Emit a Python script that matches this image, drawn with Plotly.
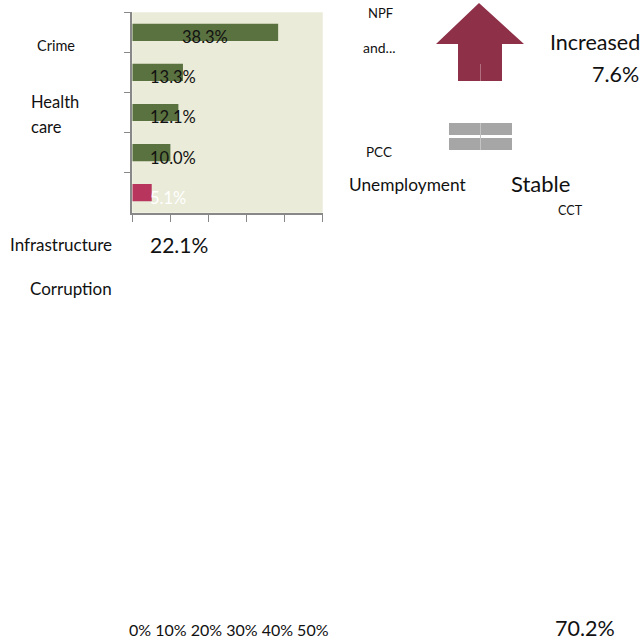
import plotly.graph_objects as go

# Data
categories = ["c1", "c2", "c3", "c4", "c5"]
values = [38.3, 13.3, 12.1, 10.0, 5.1]
bar_colors = ["#5A7140", "#5A7140", "#5A7140", "#5A7140", "#B8365E"]
label_colors = ["#111111", "#111111", "#111111", "#111111", "#FFFFFF"]
x_ticks = [0, 10, 20, 30, 40, 50]
x_tick_text = "0% 10% 20% 30% 40% 50%"

W, H = 644, 641
FONT = "Lato, 'Open Sans', sans-serif"


def fx(x):
    return x / W


def fy(y):
    return 1 - y / H


fig = go.Figure()
fig.add_trace(go.Bar(
    y=categories, x=values, orientation="h",
    marker=dict(color=bar_colors, line=dict(width=0)),
    width=0.43, hoverinfo="skip", showlegend=False,
))

annotations = []
for i, (c, v) in enumerate(zip(categories, values)):
    if i == 0:
        ax, anchor = v / 2, "center"
    else:
        ax, anchor = 4.2, "left"
    annotations.append(dict(
        x=ax, y=c, xref="x", yref="y", text=f"{v:.1f}%", showarrow=False,
        xanchor=anchor, yshift=-5, font=dict(size=16.5, color=label_colors[i], family=FONT)))


def px(x, y, text, size, anchor="center"):
    annotations.append(dict(
        x=fx(x), y=fy(y), xref="paper", yref="paper", text=text, showarrow=False,
        xanchor=anchor, yanchor="middle", font=dict(size=size, color="#111111", family=FONT)))


px(56, 46, "Crime", 14.5)
px(29, 102, "Health", 16.5, "left")
px(29, 127, "care", 16.5, "left")
px(114, 245, "Infrastructure", 17, "right")
px(148, 244, "22.1%", 21, "left")
px(114, 288, "Corruption", 17, "right")
px(127, 629, x_tick_text, 16, "left")
px(617, 628, "70.2%", 21.5, "right")
px(380, 13, "NPF", 13)
px(379, 47, "and...", 14)
px(379, 152, "PCC", 13.5)
px(407, 184, "Unemployment", 17.3)
px(540, 183, "Stable", 22)
px(570, 210, "CCT", 12.6)
px(642, 42, "Increased", 21.5, "right")
px(641, 74, "7.6%", 21.5, "right")


def P(x, y):
    return f"{fx(x)} {fy(y)}"


shapes = [
    dict(type="path", xref="paper", yref="paper",
         path=f"M {P(479,3)} L {P(524,44)} L {P(502,44)} L {P(502,81)} L {P(458,81)} L {P(458,44)} L {P(436,44)} Z",
         fillcolor="#8E3048", line=dict(width=0)),
    dict(type="line", xref="paper", yref="paper",
         x0=fx(480.5), x1=fx(480.5), y0=fy(64), y1=fy(81),
         line=dict(color="#B07080", width=1)),
    dict(type="rect", xref="paper", yref="paper",
         x0=fx(449), x1=fx(512), y0=fy(135), y1=fy(123),
         fillcolor="#A6A6A6", line=dict(width=0)),
    dict(type="rect", xref="paper", yref="paper",
         x0=fx(449), x1=fx(512), y0=fy(150), y1=fy(138),
         fillcolor="#A6A6A6", line=dict(width=0)),
    dict(type="line", xref="paper", yref="paper",
         x0=fx(480.5), x1=fx(480.5), y0=fy(123), y1=fy(150),
         line=dict(color="#C4C4C4", width=1)),
]

fig.update_layout(
    width=W, height=H,
    margin=dict(l=0, r=0, t=0, b=0),
    paper_bgcolor="white",
    plot_bgcolor="#EAEBD8",
    xaxis=dict(domain=[fx(132.3), fx(322.7)], range=[0, 50], tickvals=x_ticks,
               showticklabels=False, ticks="outside", ticklen=7, tickcolor="#888888",
               showline=True, linecolor="#888888", linewidth=2, showgrid=False, zeroline=False,
               fixedrange=True),
    yaxis=dict(domain=[fy(212.7), fy(12.3)], categoryorder="array",
               categoryarray=categories[::-1], autorange=False, range=[-0.5, 4.5],
               showticklabels=False, ticks="outside", ticklen=6, tickcolor="#888888",
               tickson="boundaries", showline=True, linecolor="#888888", linewidth=2,
               showgrid=False, zeroline=False, fixedrange=True),
    annotations=annotations,
    shapes=shapes,
    font=dict(family=FONT),
)

fig.write_html(
    "out.html",
    config={"displayModeBar": False},
    post_script="document.body.style.margin='0';document.body.style.overflow='hidden';",
)
